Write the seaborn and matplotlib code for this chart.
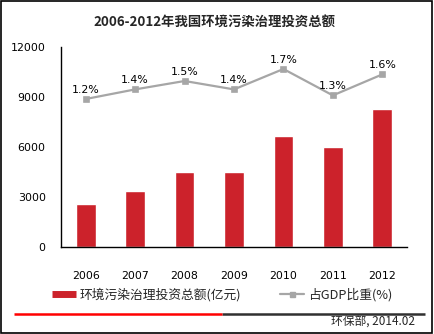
import matplotlib
matplotlib.use("Agg")
import matplotlib.pyplot as plt
from matplotlib.lines import Line2D
from matplotlib.patches import Rectangle
import numpy as np
import pandas as pd
import seaborn as sns

# Data
years = ["2006", "2007", "2008", "2009", "2010", "2011", "2012"]
investment = [2566.0, 3387.6, 4490.3, 4525.3, 6654.2, 6026.2, 8253.5]   # 亿元
gdp_share = [1.20, 1.36, 1.50, 1.36, 1.70, 1.26, 1.61]                  # %
y_ticks = [0, 3000, 6000, 9000, 12000]

title = "2006-2012年我国环境污染治理投资总额"
bar_label = "环境污染治理投资总额(亿元)"
line_label = "占GDP比重(%)"
source = "环保部, 2014.02"

BAR_RED = "#CC222B"
LINE_GREY = "#A6A6A6"

sns.set_theme(style="white")
plt.rcParams["font.family"] = ["DejaVu Sans", "Noto Sans CJK SC"]

W, H = 434, 334
fig = plt.figure(figsize=(W / 100, H / 100), dpi=100)
fig.patch.set_facecolor("white")

ax = fig.add_axes([61 / W, 1 - 247 / H, (407 - 61) / W, 200 / H])
df = pd.DataFrame({"year": years, "investment": investment, "share": gdp_share})

sns.barplot(data=df, x="year", y="investment", color=BAR_RED, width=0.4,
            saturation=1, ax=ax)
ax.set_xlim(-0.5, len(years) - 0.5)
ax.set_ylim(0, 12000)
ax.set_yticks(y_ticks)
ax.set_yticklabels([str(t) for t in y_ticks])
ax.set_xlabel("")
ax.set_ylabel("")
ax.tick_params(axis="y", length=0, pad=11, labelsize=7.9, colors="black")
ax.tick_params(axis="x", length=0, pad=17, labelsize=7.9, colors="black")
for side in ("top", "right"):
    ax.spines[side].set_visible(False)
for side in ("left", "bottom"):
    ax.spines[side].set_color("black")
    ax.spines[side].set_linewidth(1.0)

# GDP share line on a hidden secondary axis
ax2 = ax.twinx()
sns.pointplot(data=df, x="year", y="share", color=LINE_GREY, markers="s",
              markersize=3.6, linewidth=1.6, ax=ax2)
ax2.set_xlim(-0.5, len(years) - 0.5)
ax2.set_ylim(1.2 - 148 / 60, 1.2 + 52 / 60)
ax2.axis("off")
for i, v in enumerate(gdp_share):
    ax2.annotate(f"{v:.1f}%", (i, v), xytext=(0, 3), textcoords="offset points",
                 ha="center", va="bottom", fontsize=7.9, color="black")

fig.text(214 / W, 1 - 22 / H, title, ha="center", va="center", fontsize=9.6,
         fontweight="bold", family=["Noto Sans CJK SC"])

handles = [
    Line2D([], [], color=BAR_RED, linewidth=5, solid_capstyle="butt"),
    Line2D([], [], color=LINE_GREY, linewidth=1.6, marker="s", markersize=3.6),
]
fig.legend(handles, [bar_label, line_label], loc="center",
           bbox_to_anchor=(222 / W, 1 - 295 / H), ncol=2, frameon=False,
           prop={"family": ["Noto Sans CJK SC"], "size": 9.2},
           handlelength=1.9, handletextpad=0.3, columnspacing=3.0)

# Footer rule: red on the left, dark grey on the right
rule_y = 1 - 313.5 / H
fig.add_artist(Line2D([222 / W, 425 / W], [rule_y, rule_y], color="#303030",
                      linewidth=1.8, solid_capstyle="butt",
                      transform=fig.transFigure, zorder=10))
fig.add_artist(Line2D([14 / W, 222 / W], [rule_y, rule_y], color="#FF0000",
                      linewidth=1.8, solid_capstyle="butt",
                      transform=fig.transFigure, zorder=10))
fig.text(415 / W, 1 - 322 / H, source, ha="right", va="center", fontsize=8.5,
         family=["Noto Sans CJK SC"])

# Outer frame
fig.add_artist(Rectangle((0.7 / W, 0.7 / H), 431 / W, (H - 1.6) / H,
                         transform=fig.transFigure, fill=False,
                         edgecolor="black", linewidth=1.2))

fig.savefig("out.png", dpi=100)
